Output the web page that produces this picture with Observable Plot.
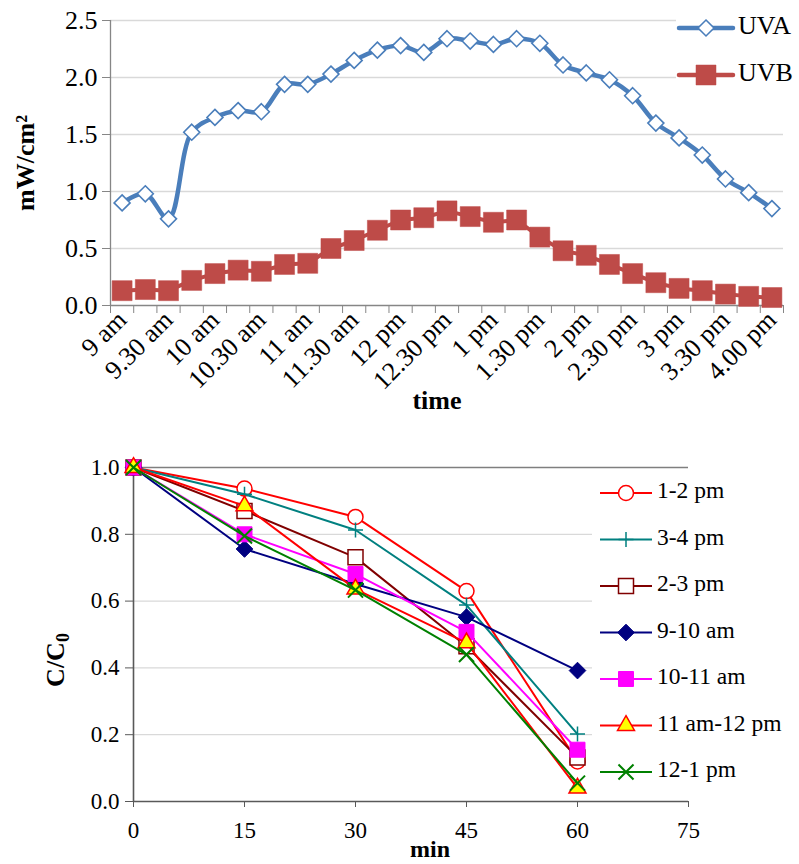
<!DOCTYPE html>
<html><head><meta charset="utf-8">
<script src="https://cdn.jsdelivr.net/npm/d3@7"></script>
<script src="https://cdn.jsdelivr.net/npm/@observablehq/plot@0.6"></script>
<style>
body{margin:0;background:#fff;}
#wrap{position:relative;width:799px;height:864px;overflow:hidden;font-family:"Liberation Serif","Times New Roman",serif;}
#wrap svg{position:absolute;left:0;}
#wrap svg text{font-family:"Liberation Serif","Times New Roman",serif;}
</style></head><body><div id="wrap"></div>
<script>
// ---------- Top chart data: irradiance every 15 min from 9 am (minutes after 9 am) ----------
const sampleMinutes = [0,15,30,45,60,75,90,105,120,135,150,165,180,195,210,225,240,255,270,285,300,315,330,345,360,375,390,405,420];
const uva = [0.90,0.98,0.76,1.52,1.65,1.71,1.70,1.94,1.94,2.03,2.15,2.24,2.28,2.22,2.34,2.32,2.29,2.34,2.30,2.11,2.04,1.98,1.84,1.60,1.47,1.32,1.11,0.99,0.85];
const uvb = [0.13,0.14,0.13,0.22,0.28,0.31,0.30,0.36,0.37,0.50,0.57,0.66,0.75,0.77,0.83,0.78,0.73,0.75,0.60,0.48,0.44,0.36,0.28,0.20,0.15,0.13,0.10,0.08,0.07];
const timeTickMinutes = [0,30,60,90,120,150,180,210,240,270,300,330,360,390,420];
const timeTickLabels = ["9 am","9.30 am","10 am","10.30 am","11 am","11.30 am","12 pm","12.30 pm","1 pm","1.30 pm","2 pm","2.30 pm","3 pm","3.30 pm","4.00 pm"];
const uvTicks = [0,0.5,1.0,1.5,2.0,2.5];

// ---------- Bottom chart data ----------
const minutes = [0,15,30,45,60];
const seriesNames = ["1-2 pm","3-4 pm","2-3 pm","9-10 am","10-11 am","11 am-12 pm","12-1 pm"];
const s1to2pm   = [1.00,0.937,0.852,0.630,0.120];
const s3to4pm   = [1.00,0.920,0.813,0.588,0.202];
const s2to3pm   = [1.00,0.870,0.731,0.465,0.132];
const s9to10am  = [1.00,0.756,0.651,0.552,0.392];
const s10to11am = [1.00,0.800,0.681,0.508,0.155];
const s11to12   = [1.00,0.885,0.636,0.475,0.040];
const s12to1pm  = [1.00,0.795,0.633,0.440,0.055];
const seriesValues = [s1to2pm,s3to4pm,s2to3pm,s9to10am,s10to11am,s11to12,s12to1pm];
const minTicks = [0,15,30,45,60,75];
const ratioTicks = [0,0.2,0.4,0.6,0.8,1.0];

// ---------- styles ----------
const FONT = "'Liberation Serif', 'Times New Roman', serif";
const seriesStyle = [
  {line:"#ff0000", symbol:"circle",    r:7.5,  fill:"white",   stroke:"#ff0000", sw:1.5},
  {line:"#008080", symbol:"plus",      r:4.9,  fill:"none",    stroke:"#008080", sw:1.5},
  {line:"#800000", symbol:"square",    r:8.46, fill:"white",   stroke:"#800000", sw:1.5},
  {line:"#000080", symbol:"diamond2",  r:7.5,  fill:"#000080", stroke:"#000080", sw:1},
  {line:"#ff00ff", symbol:"square",    r:8.46, fill:"#ff00ff", stroke:"#ff00ff", sw:1},
  {line:"#ff0000", symbol:"triangle2", r:8.1,  fill:"#ffff00", stroke:"#ff0000", sw:1.5},
  {line:"#008000", symbol:"times",     r:6.9,  fill:"none",    stroke:"#008000", sw:2}
];
const d3sym = {circle:d3.symbolCircle, plus:d3.symbolPlus, square:d3.symbolSquare, diamond2:d3.symbolDiamond2, triangle2:d3.symbolTriangle2, times:d3.symbolTimes};

const wrap = document.getElementById("wrap");

// ================= TOP CHART =================
const uvRows = sampleMinutes.map((m,i)=>({m, uva:uva[i], uvb:uvb[i]}));
const half = 7.5;
const boundaries = [...sampleMinutes.map(m=>m-half), sampleMinutes[sampleMinutes.length-1]+half];
const axisGrey = "#868686";
const topPlot = Plot.plot({
  width: 799, height: 420,
  marginLeft: 110, marginRight: 16, marginTop: 20, marginBottom: 115,
  style: {fontFamily: FONT, fontSize: "26px", color: "black", background: "transparent", overflow: "visible"},
  x: {domain: [boundaries[0], boundaries[boundaries.length-1]]},
  y: {domain: [0, 2.5]},
  marks: [
    Plot.gridY({ticks: uvTicks.slice(1), stroke: "#d9d9d9", strokeOpacity: 1, strokeWidth: 1.3}),
    Plot.axisY({ticks: uvTicks, tickFormat: d3.format(".1f"), tickSize: 8, tickPadding: 5, stroke: axisGrey, fill: "black", label: null, fontSize: 26, fontFamily: FONT}),
    Plot.axisX({ticks: boundaries, tickFormat: () => "", tickSize: 8, stroke: axisGrey, label: null}),
    Plot.axisX({ticks: timeTickMinutes, tickFormat: d => timeTickLabels[timeTickMinutes.indexOf(d)], tickSize: 0, tickPadding: 10, tickRotate: -45, fill: "black", label: null, fontSize: 26, fontFamily: FONT}),
    Plot.ruleX([boundaries[0]], {stroke: axisGrey, strokeWidth: 1.3}),
    Plot.ruleY([0], {stroke: axisGrey, strokeWidth: 1.3}),
    Plot.line(uvRows, {x: "m", y: "uvb", stroke: "#be4b48", strokeWidth: 4}),
    Plot.dot(uvRows, {x: "m", y: "uvb", symbol: "square", r: 11.28, fill: "#be4b48", stroke: "#be4b48", strokeWidth: 0.5}),
    Plot.line(uvRows, {x: "m", y: "uva", stroke: "#4a7ebb", strokeWidth: 4.5, curve: "catmull-rom"}),
    Plot.dot(uvRows, {x: "m", y: "uva", symbol: "diamond2", r: 7.2, fill: "white", stroke: "#4a7ebb", strokeWidth: 1.6})
  ]
});
topPlot.style.top = "0px";
wrap.appendChild(topPlot);
{
  const svg = d3.select(topPlot);
  svg.append("text").attr("transform","translate(28,163) rotate(-90)").attr("text-anchor","middle").attr("dominant-baseline","middle")
     .attr("font-family",FONT).attr("font-size",26).attr("font-weight","bold").text("mW/cm²");
  svg.append("text").attr("x",437).attr("y",403).attr("text-anchor","middle").attr("dominant-baseline","middle")
     .attr("font-family",FONT).attr("font-size",26).attr("font-weight","bold").text("time");
  // legend
  const lg = svg.append("g");
  lg.append("rect").attr("x",676).attr("y",8).attr("width",123).attr("height",92).attr("fill","white");
  const topLegend = [
    {name:"UVA", color:"#4a7ebb", sym:d3.symbolDiamond2, r:7.2, fill:"white", sw:1.6, lw:4.5, y:28},
    {name:"UVB", color:"#be4b48", sym:d3.symbolSquare, r:11.28, fill:"#be4b48", sw:0.5, lw:4.5, y:75}
  ];
  topLegend.forEach(e=>{
    lg.append("line").attr("x1",679).attr("x2",733).attr("y1",e.y).attr("y2",e.y).attr("stroke",e.color).attr("stroke-width",e.lw).attr("stroke-linecap","round");
    lg.append("path").attr("d",d3.symbol(e.sym, Math.PI*e.r*e.r)()).attr("transform",`translate(706,${e.y})`).attr("fill",e.fill).attr("stroke",e.color).attr("stroke-width",e.sw);
    lg.append("text").attr("x",738).attr("y",e.y).attr("text-anchor","start").attr("dominant-baseline","middle").attr("font-family",FONT).attr("font-size",26).text(e.name);
  });
}

// ================= BOTTOM CHART =================
const darkAxis = "#595959";
const seriesMarks = [];
seriesValues.forEach((vals,k)=>{
  const st = seriesStyle[k];
  const rows = minutes.map((m,i)=>({m, v: vals[i]}));
  seriesMarks.push(Plot.line(rows, {x:"m", y:"v", stroke: st.line, strokeWidth: 2}));
  seriesMarks.push(Plot.dot(rows, {x:"m", y:"v", symbol: st.symbol, r: st.r, fill: st.fill, stroke: st.stroke, strokeWidth: st.sw}));
});
const botPlot = Plot.plot({
  width: 799, height: 444,
  marginLeft: 133, marginRight: 111, marginTop: 47, marginBottom: 63,
  style: {fontFamily: FONT, fontSize: "23px", color: "black", background: "transparent", overflow: "visible"},
  x: {domain: [0, 75]},
  y: {domain: [0, 1]},
  marks: [
    Plot.gridY({ticks: ratioTicks.slice(1,5), stroke: "#d9d9d9", strokeOpacity: 1, strokeWidth: 1.3}),
    Plot.ruleY([1], {stroke: "#7f7f7f", strokeWidth: 1.6}),
    Plot.axisY({ticks: ratioTicks, tickFormat: d3.format(".1f"), tickSize: 8, tickPadding: 6, stroke: darkAxis, fill: "black", label: null, fontSize: 23, fontFamily: FONT}),
    Plot.axisX({ticks: minTicks, tickSize: 6, tickPadding: 14, stroke: darkAxis, fill: "black", label: null, fontSize: 23, fontFamily: FONT}),
    Plot.ruleX([0], {stroke: darkAxis, strokeWidth: 1.6}),
    Plot.ruleY([0], {stroke: darkAxis, strokeWidth: 1.6}),
    ...seriesMarks
  ]
});
botPlot.style.top = "420px";
wrap.appendChild(botPlot);
{
  const svg = d3.select(botPlot);
  const t = svg.append("text").attr("transform","translate(58,240) rotate(-90)").attr("text-anchor","middle").attr("dominant-baseline","middle")
     .attr("font-family",FONT).attr("font-size",26).attr("font-weight","bold");
  t.append("tspan").text("C/C");
  t.append("tspan").attr("dy",7).attr("font-size",18).text("0");
  svg.append("text").attr("x",430).attr("y",437).attr("text-anchor","middle")
     .attr("font-family",FONT).attr("font-size",24).attr("font-weight","bold").text("min");
  const lg = svg.append("g");
  lg.append("rect").attr("x",592).attr("y",52).attr("width",207).attr("height",326).attr("fill","white");
  seriesNames.forEach((name,k)=>{
    const st = seriesStyle[k];
    const y = 73 + k*46.5;
    lg.append("line").attr("x1",600).attr("x2",652).attr("y1",y).attr("y2",y).attr("stroke",st.line).attr("stroke-width",2);
    lg.append("path").attr("d",d3.symbol(d3sym[st.symbol], Math.PI*st.r*st.r)()).attr("transform",`translate(626,${y})`)
      .attr("fill",st.fill).attr("stroke",st.stroke).attr("stroke-width",st.sw);
    lg.append("text").attr("x",657).attr("y",y).attr("text-anchor","start").attr("dominant-baseline","middle").attr("font-family",FONT).attr("font-size",23.5).text(name);
  });
}
</script></body></html>
